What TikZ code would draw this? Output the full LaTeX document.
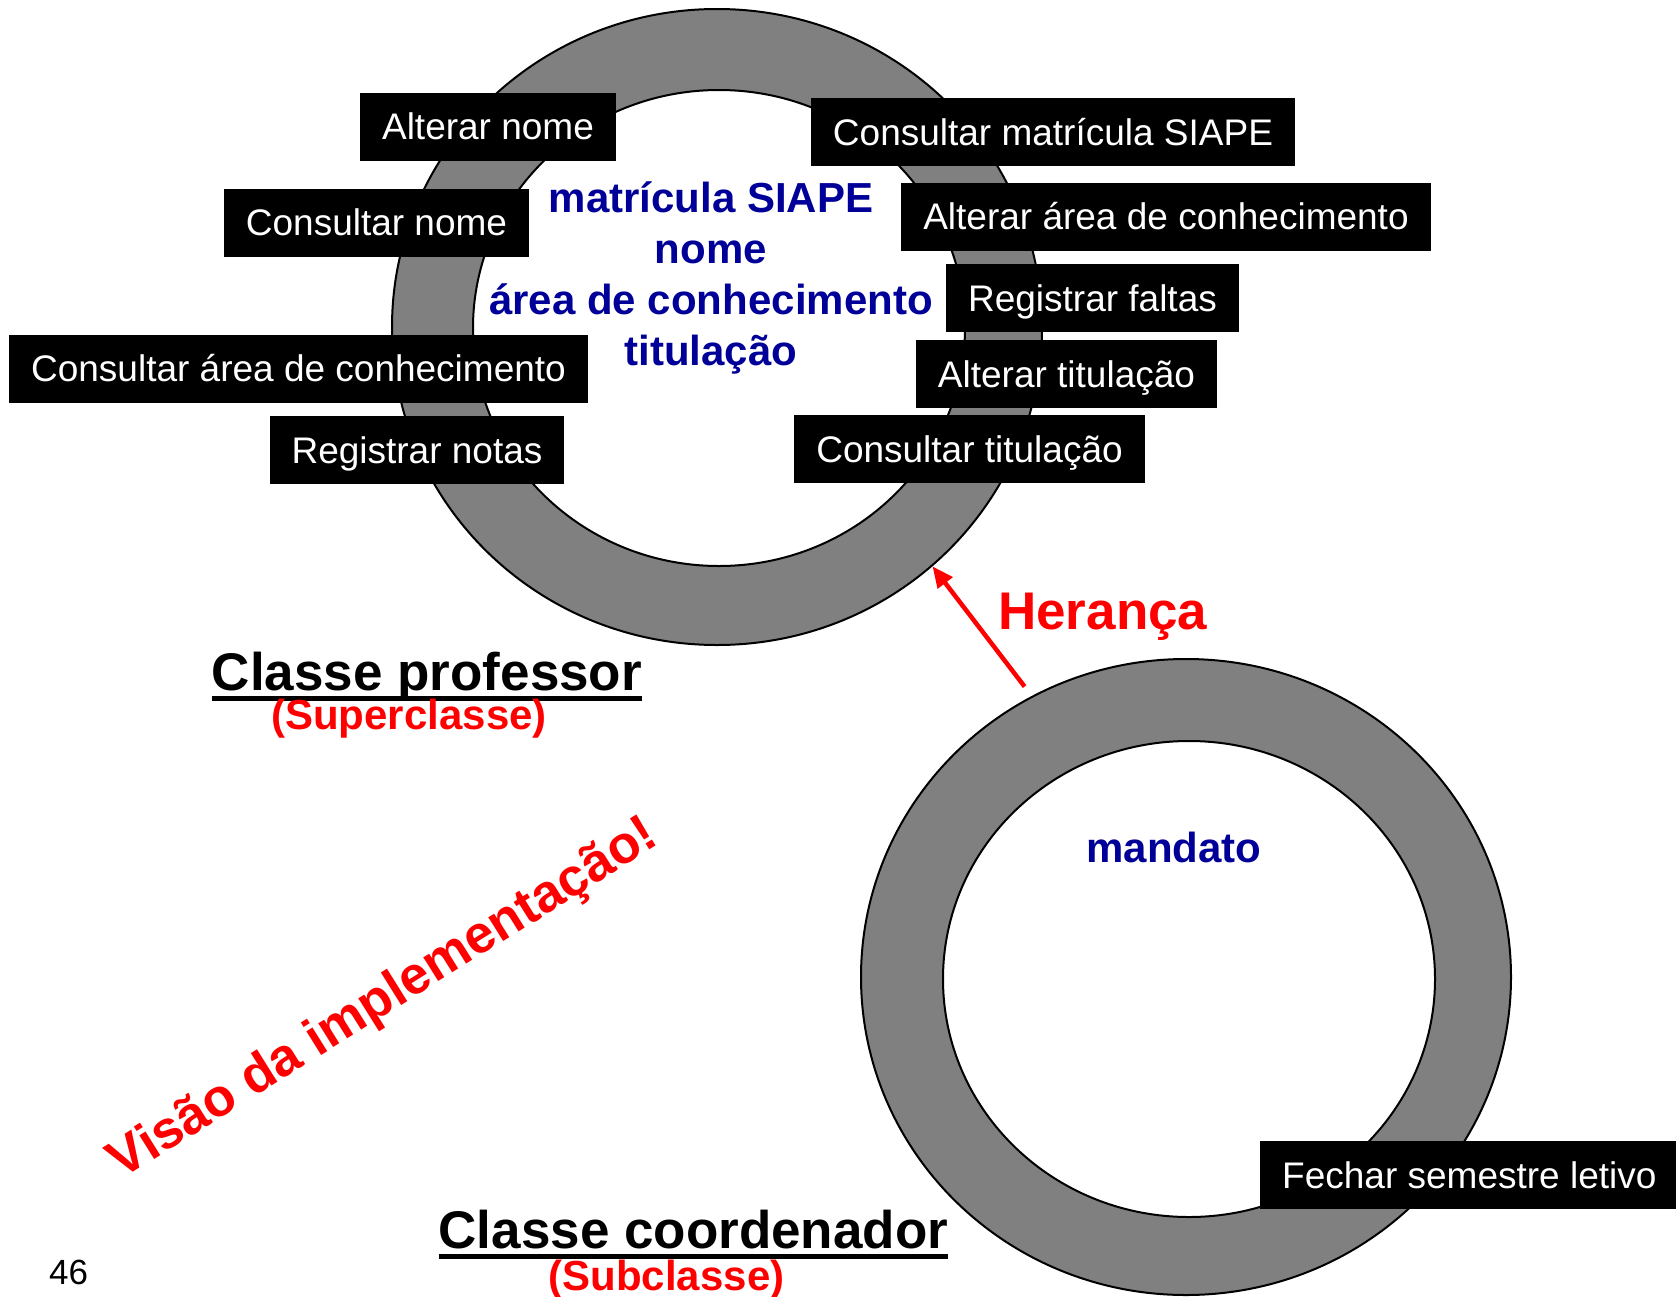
\documentclass[tikz,border=0pt]{standalone}
\usepackage{fontspec}
\setmainfont{Liberation Sans}
\usetikzlibrary{shapes.geometric,arrows.meta}
\definecolor{ringgray}{HTML}{808080}
\definecolor{attrblue}{HTML}{000099}
\begin{document}
\begin{tikzpicture}[x=1pt,y=-1pt,
  ring/.style={ellipse, draw=black, line width=2pt, fill=ringgray, inner sep=0pt, minimum width=650pt, minimum height=636pt},
  hole/.style={ellipse, draw=black, line width=2pt, fill=white, inner sep=0pt, minimum width=492pt, minimum height=476pt},
  op/.style={fill=black, text=white, font=\fontsize{37}{44}\selectfont, inner xsep=22pt, inner ysep=0pt, minimum height=68pt, text height=34pt, text depth=8pt},
  attr/.style={text=attrblue, font=\bfseries\fontsize{42}{51}\selectfont, inner sep=0pt},
  title/.style={font=\bfseries\fontsize{53}{60}\selectfont, inner sep=0pt, anchor=base},
  subt/.style={text=red, font=\bfseries\fontsize{42}{50}\selectfont, inner sep=0pt, anchor=base},
  harrow/.style={draw=red, line width=4.5pt, -{Triangle[length=21pt,width=18pt]}},
  uline/.style={line width=4.5pt},
]
\useasboundingbox[fill=white] (0,0) rectangle (1676,1296);

% rings
\node[ring] (ring1) at (717,327) {};
\node[hole] (hole1) at (719,328) {};
\node[ring] (ring2) at (1186,977) {};
\node[hole] (hole2) at (1189,979) {};

% operations of professor
\node[op] (altnome) at (488,126.7) {Alterar nome};
\node[op] (connome) at (376.5,222.6) {Consultar nome};
\node[op] (conarea) at (298.5,368.7) {Consultar área de conhecimento};
\node[op] (regnotas) at (417,450.4) {Registrar notas};
\node[op] (consiape) at (1053,132) {Consultar matrícula SIAPE};
\node[op] (altarea) at (1166,216.5) {Alterar área de conhecimento};
\node[op] (regfaltas) at (1092.5,298) {Registrar faltas};
\node[op] (alttit) at (1066.5,374) {Alterar titulação};
\node[op] (contit) at (969.5,449) {Consultar titulação};
% operation of coordenador
\node[op, anchor=west] (fechar) at (1260,1175) {Fechar semestre letivo};

% attributes
\node[attr, anchor=base] (attrs1) at (711,212) {\begin{tabular}[t]{@{}c@{}}matrícula SIAPE\\nome\\área de conhecimento\\titulação\end{tabular}};
\node[attr, anchor=base] (attrs2) at (1174,862) {mandato};

% inheritance
\draw[harrow] ([shift={(-6pt,10pt)}]ring2.119.5) -- (ring1.-48.3);
\node[font=\bfseries\fontsize{53}{60}\selectfont, text=red, anchor=base west, inner sep=0pt] (heranca) at (998,629) {Herança};

% titles
\node[title] (tprof) at (427,690) {Classe professor};
\draw[uline] ([yshift=-8.5pt]tprof.base west) -- ([yshift=-8.5pt]tprof.base east);
\node[subt] (tsuper) at (409,729) {(Superclasse)};
\node[title] (tcoord) at (693.5,1248) {Classe coordenador};
\draw[uline] ([yshift=-8.5pt]tcoord.base west) -- ([yshift=-8.5pt]tcoord.base east);
\node[subt] (tsub) at (666.5,1290) {(Subclasse)};

% diagonal note
\node[rotate=32, text=red, font=\bfseries\fontsize{53}{60}\selectfont, inner sep=0pt] (visao) at (384,1000) {Visão da implementação!};

% page number
\node[font=\fontsize{35}{40}\selectfont, anchor=base west, inner sep=0pt] (pg) at (49,1284) {46};
\end{tikzpicture}
\end{document}
